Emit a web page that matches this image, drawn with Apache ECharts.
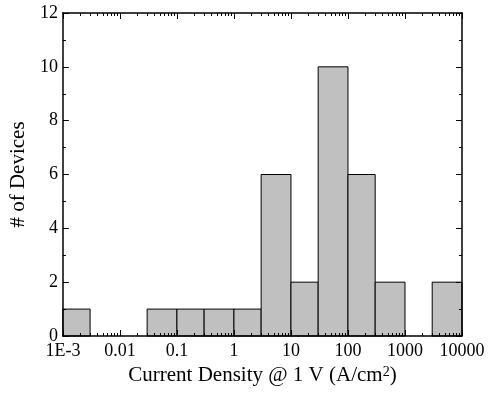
<!DOCTYPE html>
<html><head><meta charset="utf-8">
<script src="https://cdn.jsdelivr.net/npm/echarts@6/dist/echarts.min.js"></script>
<style>html,body{margin:0;padding:0;background:#fff}#c{width:488px;height:396px}</style>
</head><body><div id="c"></div>
<script>
// Histogram bins (current density, A/cm^2) and device counts
const binLow  = [0.001, 0.03, 0.1, 0.3, 1, 3, 10, 30, 100, 300, 3000];
const binHigh = [0.003, 0.1, 0.3, 1, 3, 10, 30, 100, 300, 1000, 10000];
const counts  = [1, 1, 1, 1, 1, 6, 2, 10, 6, 2, 2];
// X axis decades and their labels
const xTickValues = [0.001, 0.01, 0.1, 1, 10, 100, 1000, 10000];
const xTickLabels = ['1E-3', '0.01', '0.1', '1', '10', '100', '1000', '10000'];
const yMin = 0, yMax = 12, yStep = 2;

const FONT = 'Liberation Serif';
const lg = v => Math.log10(v);
const xMin = lg(xTickValues[0]), xMax = lg(xTickValues[xTickValues.length - 1]);
const minorVals = [];
for (let i = 0; i < xTickValues.length - 1; i++) {
  for (let m = 2; m <= 9; m++) minorVals.push(lg(xTickValues[i] * m));
}
const majorVals = xTickValues.map(lg);
const axisLine = {show: true, onZero: false, lineStyle: {color: '#000', width: 1.5}};

function xAxisDef(pos, minor, labels, axisShow) {
  return {
    type: 'value', position: pos, min: xMin, max: xMax, interval: 1,
    gridIndex: 0, z: 10,
    axisLine: axisShow ? axisLine : {show: false, onZero: false},
    splitLine: {show: false},
    axisTick: {show: true, inside: true, length: minor ? 3 : 6,
      customValues: minor ? minorVals : majorVals,
      lineStyle: {color: '#000', width: 1}},
    axisLabel: labels ? {show: true, margin: 6, color: '#000', fontFamily: FONT, fontSize: 18,
      formatter: v => { const i = majorVals.findIndex(t => Math.abs(t - v) < 1e-6); return i >= 0 ? xTickLabels[i] : ''; }} : {show: false}
  };
}

const data = counts.map((c, i) => [lg(binLow[i]), lg(binHigh[i]), c]);

const option = {
  animation: false,
  backgroundColor: '#fff',
  grid: {left: 61, right: 26, top: 13, bottom: 60},
  xAxis: [
    Object.assign(xAxisDef('bottom', false, true, true), {
      name: 'Current Density @ 1 V (A/cm{sup|2})', nameLocation: 'middle', nameGap: 25,
      nameTextStyle: {color: '#000', fontFamily: FONT, fontSize: 21,
        rich: {sup: {fontSize: 14, verticalAlign: 'top', fontFamily: FONT, color: '#000', padding: [0, 0, 6, 0]}}}
    }),
    xAxisDef('bottom', true, false, false),
    xAxisDef('top', false, false, true),
    xAxisDef('top', true, false, false)
  ],
  yAxis: [
    {type: 'value', position: 'left', min: yMin, max: yMax, interval: yStep, z: 10,
      name: '# of Devices', nameLocation: 'middle', nameGap: 28,
      nameTextStyle: {color: '#000', fontFamily: FONT, fontSize: 21},
      axisLine: axisLine, splitLine: {show: false},
      axisTick: {show: true, inside: true, length: 6, lineStyle: {color: '#000', width: 1}},
      minorTick: {show: true, splitNumber: 2, length: 3, lineStyle: {color: '#000', width: 1}},
      minorSplitLine: {show: false},
      axisLabel: {color: '#000', fontFamily: FONT, fontSize: 18, margin: 5}},
    {type: 'value', position: 'right', min: yMin, max: yMax, interval: yStep, z: 10,
      axisLine: axisLine, splitLine: {show: false},
      axisTick: {show: true, inside: true, length: 6, lineStyle: {color: '#000', width: 1}},
      minorTick: {show: true, splitNumber: 2, length: 3, lineStyle: {color: '#000', width: 1}},
      minorSplitLine: {show: false},
      axisLabel: {show: false}}
  ],
  series: [{
    type: 'custom', xAxisIndex: 0, yAxisIndex: 0, data: data,
    encode: {x: [0, 1], y: 2},
    renderItem: function (params, api) {
      const p0 = api.coord([api.value(0), api.value(2)]);
      const p1 = api.coord([api.value(1), 0]);
      return {type: 'rect', shape: {x: p0[0], y: p0[1], width: p1[0] - p0[0], height: p1[1] - p0[1]},
        style: {fill: '#c0c0c0', stroke: '#000', lineWidth: 1}};
    },
    z: 1
  }]
};
const chart = echarts.init(document.getElementById('c'), null, {renderer: 'canvas'});
chart.setOption(option);
</script></body></html>
